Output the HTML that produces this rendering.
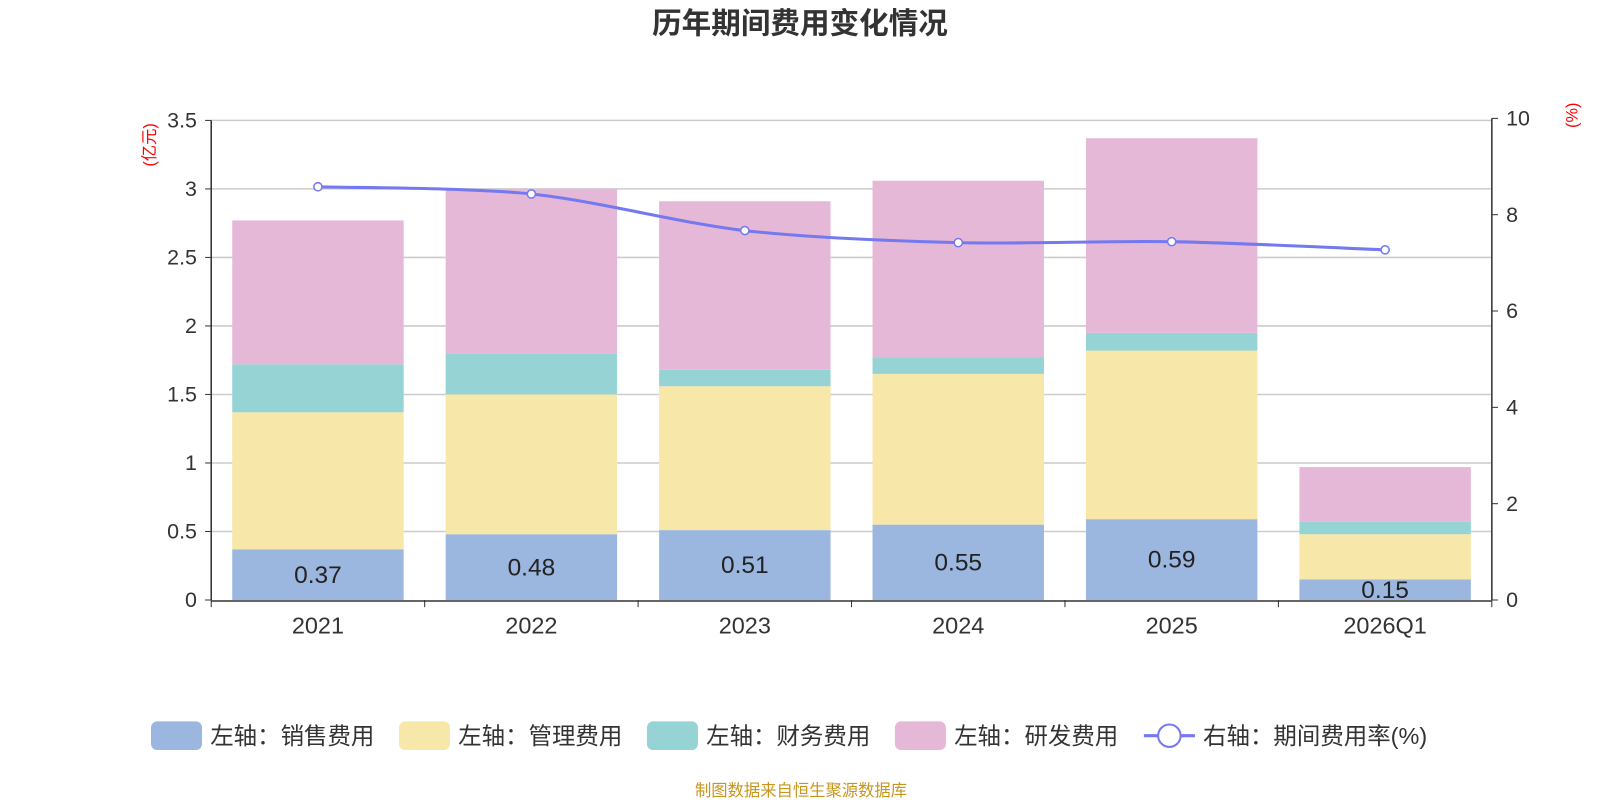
<!DOCTYPE html>
<html><head><meta charset="utf-8"><style>
body{margin:0;background:#fff;}
svg{display:block;font-family:"Liberation Sans","Noto Sans CJK SC",sans-serif;}
</style></head><body>
<svg id="chart" width="1600" height="800" viewBox="0 0 1568 784">
<text x="784" y="33" text-anchor="middle" font-size="29" font-weight="bold" fill="#333">历年期间费用变化情况</text>
<text x="785" y="780" text-anchor="middle" font-size="16" fill="#c8961e">制图数据来自恒生聚源数据库</text>
<text transform="translate(152,142) rotate(-90)" text-anchor="middle" font-size="16" fill="red">(亿元)</text>
<text transform="translate(1546,113) rotate(-90)" text-anchor="middle" font-size="16" fill="red">(%)</text>
<g id="grid"></g><g id="bars"></g><g id="axes"></g><g id="line"></g><g id="legend"></g>
</svg>
<script>
const categories=["2021","2022","2023","2024","2025","2026Q1"];
const sales=[0.37,0.48,0.51,0.55,0.59,0.15];
const mgmt=[1.00,1.02,1.05,1.10,1.23,0.33];
const fin=[0.35,0.30,0.12,0.12,0.13,0.09];
const rd=[1.05,1.20,1.23,1.29,1.42,0.40];
const rate=[8.58,8.43,7.67,7.42,7.44,7.27];
const leftTicks=[0,0.5,1,1.5,2,2.5,3,3.5];
const rightTicks=[0,2,4,6,8,10];
const NS="http://www.w3.org/2000/svg";
const x0=207,x1=1462,y0=588,yTop=118;
const band=(x1-x0)/categories.length;
const yL=v=>y0-v*(y0-yTop)/3.5;
const yR=v=>y0-v*(y0-116)/10;
const xC=i=>x0+band*(i+0.5);
function mk(tag,attrs,parent){const e=document.createElementNS(NS,tag);for(const k in attrs)e.setAttribute(k,attrs[k]);document.getElementById(parent).appendChild(e);return e;}
leftTicks.forEach(t=>{
 const y=yL(t);
 if(t>0){const g=mk('line',{x1:x0,x2:x1,y1:y,y2:y,stroke:'#ccc','stroke-width':1.5},'grid');
 
 }
 const tk=mk('line',{x1:x0-6,x2:x0,y1:y,y2:y,stroke:'#333'},'axes');
 
 
 const tx=mk('text',{x:x0-14,y:y+7,'text-anchor':'end','font-size':21,fill:'#333'},'axes');tx.textContent=t;
 
 
});
rightTicks.forEach(t=>{
 const y=yR(t);
 const tk=mk('line',{x1:x1,x2:x1+6,y1:y,y2:y,stroke:'#333'},'axes');
 
 
 const tx=mk('text',{x:x1+14,y:y+7,'font-size':21,fill:'#333'},'axes');tx.textContent=t;
 
 
});
[['left-axis',x0,x0,yTop,y0],['right-axis',x1,x1,116,y0],['x-axis',x0,x1,y0+1,y0+1]].forEach(a=>{
 const l=mk('line',{x1:a[1],x2:a[2],y1:a[3],y2:a[4],stroke:'#333','stroke-width':1.5},'axes');
 
 
});
for(let i=0;i<=categories.length;i++){
 const l=mk('line',{x1:x0+band*i,x2:x0+band*i,y1:y0,y2:y0+7,stroke:'#333'},'axes');
 
 
}
categories.forEach((c,i)=>{
 const t=mk('text',{x:xC(i),y:y0+33,'text-anchor':'middle','font-size':23,fill:'#333'},'axes');t.textContent=c;
 
 
});
const series=[[sales,'#9bb7e0','sales'],[mgmt,'#f7e7a8','mgmt'],[fin,'#96d3d4','fin'],[rd,'#e6b8d8','rd']];
const bw=168;
categories.forEach((c,i)=>{
 let acc=0;
 series.forEach(s=>{
  const v=s[0][i];
  const r=mk('rect',{x:xC(i)-bw/2,y:yL(acc+v),width:bw,height:yL(acc)-yL(acc+v),fill:s[1]},'bars');
  
  
  acc+=v;
 });
 const t=mk('text',{x:xC(i),y:Math.min((yL(sales[i])+y0)/2+8,y0-2),'text-anchor':'middle','font-size':24,fill:'#222'},'bars');t.textContent=sales[i].toFixed(2);
 
 
});
const pts=rate.map((v,i)=>[xC(i),yR(v)]);
let d='M'+pts[0][0]+','+pts[0][1];
for(let i=0;i<pts.length-1;i++){
 const p0=pts[Math.max(i-1,0)],p1=pts[i],p2=pts[i+1],p3=pts[Math.min(i+2,pts.length-1)];
 const k=0.15;
 d+=' C'+(p1[0]+(p2[0]-p0[0])*k)+','+(p1[1]+(p2[1]-p0[1])*k)+' '+(p2[0]-(p3[0]-p1[0])*k)+','+(p2[1]-(p3[1]-p1[1])*k)+' '+p2[0]+','+p2[1];
}
const path=mk('path',{d:d,fill:'none',stroke:'#7479f0','stroke-width':3},'line');


pts.forEach((p,i)=>{
 const c=mk('circle',{cx:p[0],cy:p[1],r:4,fill:'#fff',stroke:'#7479f0','stroke-width':1.5},'line');
 
 
});
const leg=[['左轴：销售费用','#9bb7e0',148],['左轴：管理费用','#f7e7a8',391],['左轴：财务费用','#96d3d4',634],['左轴：研发费用','#e6b8d8',877]];
leg.forEach(l=>{
 const r=mk('rect',{x:l[2],y:707,width:50,height:28,rx:6,fill:l[1]},'legend');
 
 
 const t=mk('text',{x:l[2]+58,y:729,'font-size':23,fill:'#333'},'legend');t.textContent=l[0];
 
 
});
const ll=mk('line',{x1:1121,x2:1171,y1:721,y2:721,stroke:'#7479f0','stroke-width':3},'legend');


const lc=mk('circle',{cx:1146,cy:721,r:11,fill:'#fff',stroke:'#7479f0','stroke-width':2},'legend');


const lt=mk('text',{x:1179,y:729,'font-size':23,fill:'#333'},'legend');lt.textContent='右轴：期间费用率(%)';


</script>
</body></html>
